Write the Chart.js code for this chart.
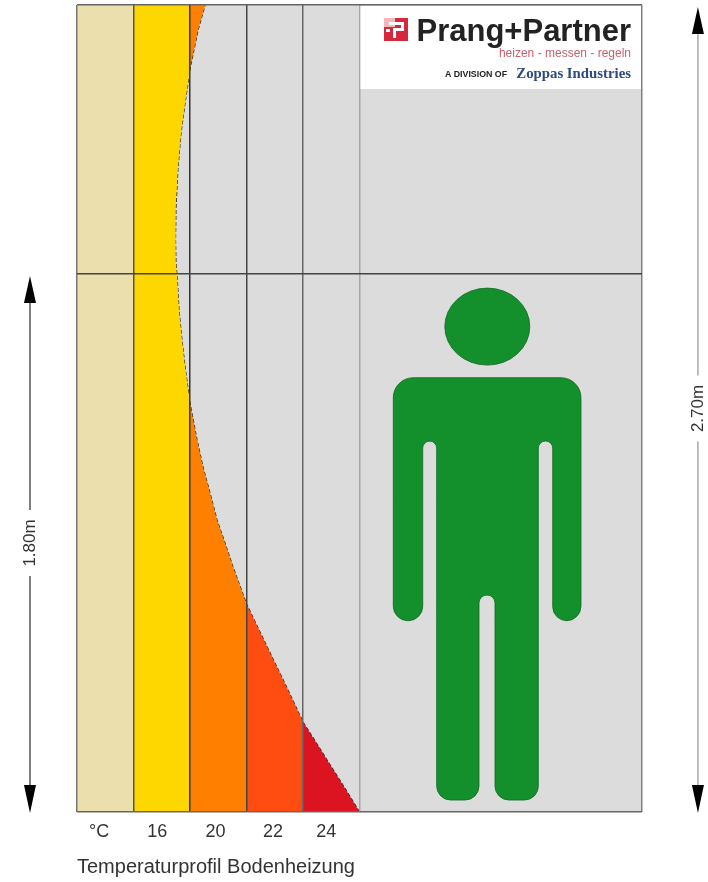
<!DOCTYPE html>
<html><head><meta charset="utf-8">
<script src="https://cdn.jsdelivr.net/npm/chart.js@4"></script>
<style>html,body{margin:0;padding:0;background:#fff}canvas{display:block}</style>
</head><body><canvas id="c" width="708" height="882"></canvas>
<script>
// Band edges on the horizontal scale (band units); the last band is the empty room.
const bandEdges = [0, 1, 2, 3, 4, 5, 10];
const tickLabels = ['°C', '16', '20', '22', '24'];
const tickPositions = [0.39, 1.42, 2.45, 3.47, 4.41];
// Temperature profile: horizontal reach per height in metres.
const heights = [0, 0.087, 0.158, 0.2275, 0.301, 0.415, 0.512, 0.602, 0.696, 0.820, 0.900, 0.977, 1.067, 1.154, 1.245, 1.368, 1.489, 1.579, 1.679, 1.770, 1.837, 1.914, 2.024, 2.158, 2.272, 2.372, 2.449, 2.486, 2.616, 2.693, 2.70];
const profile = [5, 4.717, 4.478, 4.248, 4, 3.717, 3.469, 3.239, 3, 2.761, 2.619, 2.478, 2.354, 2.230, 2.124, 2, 1.912, 1.858, 1.805, 1.779, 1.752, 1.743, 1.752, 1.788, 1.841, 1.912, 1.973, 2, 2.142, 2.257, 2.265];
const roomHeights = [0, 1.80, 2.70];
const heightLabels = ['1.80m', '2.70m'];
const title = 'Temperaturprofil Bodenheizung';
const bandColors = ['#EBDFAE', '#FFD700', '#FF8000', '#FF4D12', '#DC1422'];
const gridColors = ['#777', '#555', '#333', '#444', '#666', '#a6a6a6', '#808080'];

const FONT = '"Liberation Sans", Arial, sans-serif';

function bandDataset(i) {
  const lo = bandEdges[i], hi = bandEdges[i + 1];
  return {
    label: tickLabels[i],
    data: heights.map((h, k) => ({ x: Math.max(lo, Math.min(hi, i === 0 ? hi : profile[k])), y: h })),
    xAxisID: 'x', yAxisID: 'y',
    backgroundColor: bandColors[i], borderWidth: 0, pointRadius: 0,
    fill: { value: lo }, tension: 0
  };
}

// Figure outline in chart units: x, y, corner radius in px.
const figure = [
  [5.598,1.453,20],[8.920,1.453,20],[8.920,0.640,14.5],[8.420,0.640,14],[8.420,1.241,7],[8.165,1.241,7],
  [8.165,0.040,14],[7.398,0.040,14],[7.398,0.726,8],[7.115,0.726,8],[7.115,0.040,14],[6.366,0.040,14],
  [6.366,1.241,7],[6.119,1.241,7],[6.119,0.640,14.5],[5.598,0.640,14.5]
];

const decor = {
  id: 'decor',
  beforeDatasetsDraw(chart) {
    const { ctx, chartArea: a } = chart;
    ctx.save(); ctx.fillStyle = '#DCDCDC';
    ctx.fillRect(a.left, a.top, a.width, a.height); ctx.restore();
  },
  afterDraw(chart) {
    const { ctx, chartArea: a } = chart;
    const X = chart.scales.x, Y = chart.scales.y;
    const px = v => X.getPixelForValue(v), py = v => Y.getPixelForValue(v);
    ctx.save();
    // figure
    ctx.fillStyle = '#13902B'; ctx.strokeStyle = '#0c6a1e'; ctx.lineWidth = 0.8;
    ctx.beginPath();
    ctx.ellipse(px(7.262), py(1.624), 42.5, 38.5, 0, 0, Math.PI * 2);
    ctx.fill(); ctx.stroke();
    ctx.beginPath();
    const n = figure.length;
    const mid = (p, q) => [(px(p[0]) + px(q[0])) / 2, (py(p[1]) + py(q[1])) / 2];
    const s = mid(figure[n - 1], figure[0]);
    ctx.moveTo(s[0], s[1]);
    figure.forEach((p, i) => {
      const q = figure[(i + 1) % n];
      ctx.arcTo(px(p[0]), py(p[1]), px(q[0]), py(q[1]), p[2]);
    });
    ctx.closePath(); ctx.fill(); ctx.stroke();

    // logo block
    ctx.fillStyle = '#fff';
    ctx.fillRect(px(5) + 1, a.top + 1, a.right - px(5) - 2, 83);
    ctx.fillStyle = '#D4293C'; ctx.fillRect(384, 18, 24, 23);
    ctx.fillStyle = '#F2B8BC'; ctx.fillRect(384, 18, 11, 9);
    ctx.fillStyle = '#fff';
    ctx.fillRect(389, 22, 15, 3); ctx.fillRect(401, 22, 3, 9); ctx.fillRect(393, 28, 11, 3); ctx.fillRect(393, 28, 3, 10); ctx.fillRect(386, 29, 4, 3);
    ctx.textBaseline = 'alphabetic'; ctx.textAlign = 'right';
    ctx.fillStyle = '#222'; ctx.font = 'bold 31px ' + FONT;
    ctx.fillText('Prang+Partner', 631, 41);
    ctx.fillStyle = '#C9606C'; ctx.font = '12px ' + FONT;
    ctx.fillText('heizen - messen - regeln', 631, 57);
    ctx.fillStyle = '#2F4A80'; ctx.font = 'bold 14.8px "Liberation Serif", serif';
    ctx.fillText('Zoppas Industries', 631, 78);
    ctx.fillStyle = '#222'; ctx.font = 'bold 8.8px ' + FONT;
    ctx.fillText('A DIVISION OF', 507, 77);

    // dimension lines
    const dim = (x, v, label, color) => {
      const yT = py(v), yB = py(0), yM = (yT + yB) / 2;
      ctx.strokeStyle = color; ctx.lineWidth = 1.5;
      ctx.beginPath(); ctx.moveTo(x, yT + 20); ctx.lineTo(x, yM - 33); ctx.moveTo(x, yM + 33); ctx.lineTo(x, yB - 20); ctx.stroke();
      ctx.fillStyle = '#000';
      ctx.beginPath(); ctx.moveTo(x, yT + 2); ctx.lineTo(x + 6, yT + 29); ctx.lineTo(x - 6, yT + 29); ctx.closePath(); ctx.fill();
      ctx.beginPath(); ctx.moveTo(x, yB + 1); ctx.lineTo(x + 6, yB - 27); ctx.lineTo(x - 6, yB - 27); ctx.closePath(); ctx.fill();
      ctx.save(); ctx.translate(x, yM); ctx.rotate(-Math.PI / 2);
      ctx.fillStyle = '#333'; ctx.font = '17px ' + FONT; ctx.textAlign = 'center'; ctx.textBaseline = 'middle';
      ctx.fillText(label, 0, 0); ctx.restore();
    };
    dim(px(-0.832), roomHeights[1], heightLabels[0], '#555');
    dim(px(10.99), roomHeights[2], heightLabels[1], '#aaa');
    ctx.restore();
  }
};

const curve = {
  label: 'Profil',
  data: heights.map((h, k) => ({ x: profile[k], y: h })),
  xAxisID: 'x', yAxisID: 'y',
  borderColor: '#222', borderWidth: 1.2, borderDash: [4, 2], pointRadius: 0, fill: false, tension: 0
};

new Chart(document.getElementById('c'), {
  type: 'line',
  data: { datasets: [...tickLabels.map((_, i) => bandDataset(i)), curve] },
  plugins: [decor],
  options: {
    indexAxis: 'y', responsive: false, animation: false,
    layout: { padding: { left: 77, right: 66, top: 5, bottom: 0 } },
    plugins: {
      legend: { display: false }, tooltip: { enabled: false },
      title: { display: true, text: title, position: 'bottom', align: 'start', color: '#333',
        font: { family: FONT, size: 20, weight: 'normal' }, padding: { top: 0, bottom: 3 } }
    },
    scales: {
      x: {
        type: 'linear', position: 'bottom', min: 0, max: 10,
        ticks: { display: false }, border: { display: false },
        afterBuildTicks: s => { s.ticks = bandEdges.map(v => ({ value: v })); },
        afterFit: s => { s.height = 0; },
        grid: { z: 1, drawTicks: false, lineWidth: 1.5, color: c => gridColors[c.index] }
      },
      x2: {
        type: 'linear', position: 'bottom', min: 0, max: 10,
        border: { display: false }, grid: { display: false, drawTicks: false },
        afterBuildTicks: s => { s.ticks = tickPositions.map(v => ({ value: v })); },
        afterFit: s => { s.height = 43; },
        ticks: { autoSkip: false, maxRotation: 0, padding: 9, color: '#333',
          font: { family: FONT, size: 18 }, callback: (v, i) => tickLabels[i] }
      },
      y: {
        type: 'linear', min: 0, max: 2.7, position: 'left',
        ticks: { display: false }, border: { display: false },
        afterBuildTicks: s => { s.ticks = roomHeights.map(v => ({ value: v })); },
        afterFit: s => { s.width = 0; },
        grid: { z: 1, drawTicks: false, lineWidth: 1.5, color: c => ['#666', '#444', '#666'][c.index] }
      }
    }
  }
});
</script>
</body></html>
